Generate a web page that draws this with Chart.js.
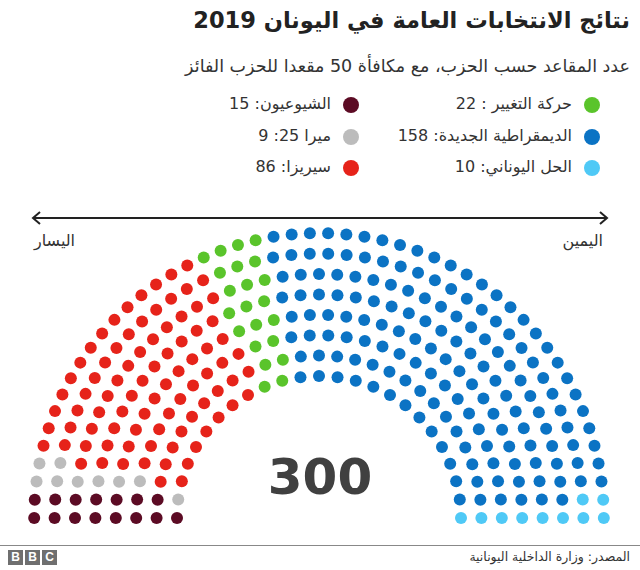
<!DOCTYPE html>
<html lang="ar">
<head>
<meta charset="utf-8">
<script src="https://cdn.jsdelivr.net/npm/chart.js@4.4.1/dist/chart.umd.min.js"></script>
<style>
  html, body { margin: 0; padding: 0; background: #fff; }
  body { width: 640px; height: 570px; position: relative; overflow: hidden; font-family: "DejaVu Sans", "Noto Sans", sans-serif; color: #222; }
  .rtl { direction: rtl; position: absolute; white-space: nowrap; }
  #title { right: 10px; top: 7px; font-size: 22.5px; font-weight: bold; color: #222; }
  #subtitle { right: 10px; top: 56px; font-size: 17.5px; color: #333; }
  .leg { font-size: 16px; color: #333; line-height: 20px; }
  .leg span.dot { display: inline-block; width: 16px; height: 16px; border-radius: 50%; vertical-align: middle; margin-left: 12px; }
  #arrow { position: absolute; left: 30px; top: 211px; width: 580px; height: 14px; }
  .side { font-size: 16px; color: #333; top: 231px; }
  #total { position: absolute; left: 0; width: 640px; top: 448px; text-align: center; font-size: 50px; font-weight: bold; color: #404040; font-family: "DejaVu Sans", sans-serif; }
  #rule { position: absolute; left: 0; top: 545px; width: 640px; height: 1px; background: #888; }
  #bbc { position: absolute; left: 8px; top: 550px; display: flex; gap: 2px; }
  #bbc div { width: 15px; height: 15px; background: #6f6f6f; color: #fff; font: bold 12px "Liberation Sans", sans-serif; text-align: center; line-height: 15px; }
  #source { right: 10px; top: 549px; font-size: 12.5px; color: #333; }
  #chart { position: absolute; left: 0; top: 200px; }
</style>
</head>
<body>
<div id="title" class="rtl">نتائج الانتخابات العامة في اليونان 2019</div>
<div id="subtitle" class="rtl">عدد المقاعد حسب الحزب، مع مكافأة 50 مقعدا للحزب الفائز</div>
<div id="legend"></div>

<svg id="arrow" viewBox="0 0 580 14">
  <line x1="3" y1="7" x2="577" y2="7" stroke="#222" stroke-width="2"/>
  <polyline points="10,1 3,7 10,13" fill="none" stroke="#222" stroke-width="2"/>
  <polyline points="570,1 577,7 570,13" fill="none" stroke="#222" stroke-width="2"/>
</svg>
<div class="rtl side" style="left:34px">اليسار</div>
<div class="rtl side" style="right:37px">اليمين</div>

<canvas id="chart" width="640" height="340"></canvas>
<div id="total">300</div>

<div id="rule"></div>
<div id="bbc"><div>B</div><div>B</div><div>C</div></div>
<div id="source" class="rtl">المصدر: وزارة الداخلية اليونانية</div>

<script>
// Parties from left to right of the chamber
const parties = ['الشيوعيون', 'ميرا 25', 'سيريزا', 'حركة التغيير', 'الديمقراطية الجديدة', 'الحل اليوناني'];
const seats = [15, 9, 86, 22, 158, 10];
const colors = ['#5c0b24', '#bcbcbc', '#e6231a', '#5ac42b', '#0b73c4', '#4fc9f6'];

// Legend text as printed, in reading order (right column, then left column)
const legendLabels = ['حركة التغيير : 22', 'الديمقراطية الجديدة: 158', 'الحل اليوناني: 10',
                      'الشيوعيون: 15', 'ميرا 25: 9', 'سيريزا: 86'];
const legendParty = [3, 4, 5, 0, 1, 2];

const totalSeats = seats.reduce((a, b) => a + b, 0);

// Hemicycle geometry (data units are pixels)
const ROWS = 8;
const innerR = 142;
const rowGap = 20.4;

// Seats per row proportional to radius
const radii = Array.from({ length: ROWS }, (_, i) => innerR + i * rowGap);
const rSum = radii.reduce((a, b) => a + b, 0);
const perRow = radii.map(r => Math.round(totalSeats * r / rSum));

// Every seat position, then sort by angle (left to right)
const slots = [];
radii.forEach((r, i) => {
    const n = perRow[i];
    for (let j = 0; j < n; j++) {
        const a = Math.PI * (1 - j / (n - 1));
        slots.push({ a, r });
    }
});
slots.sort((p, q) => (q.a - p.a) || (q.r - p.r));

// Hand out seats to parties in order
const seatColor = [];
seats.forEach((n, p) => { for (let k = 0; k < n; k++) seatColor.push(colors[p]); });

const points = slots.map(s => ({ x: s.r * Math.cos(s.a), y: s.r * Math.sin(s.a) }));

new Chart(document.getElementById('chart'), {
    type: 'scatter',
    data: {
        datasets: [{
            data: points,
            pointRadius: 6,
            pointHoverRadius: 6,
            pointBorderWidth: 0,
            pointBackgroundColor: seatColor,
            clip: false
        }]
    },
    options: {
        responsive: false,
        animation: false,
        events: [],
        layout: { padding: 0, autoPadding: false },
        plugins: { legend: { display: false }, tooltip: { enabled: false } },
        scales: {
            x: { type: 'linear', min: -319, max: 321, display: false },
            y: { type: 'linear', min: -22, max: 318, display: false }
        }
    }
});

// HTML legend
const legendRows = [104, 136, 167];
const legendRight = [40, 281];
const legend = document.getElementById('legend');
legendLabels.forEach((label, i) => {
    const col = Math.floor(i / 3);
    const el = document.createElement('div');
    el.className = 'rtl leg';
    el.style.right = legendRight[col] + 'px';
    el.style.top = (legendRows[i % 3] - 10) + 'px';
    el.innerHTML = '<span class="dot" style="background:' + colors[legendParty[i]] + '"></span>' + label;
    legend.appendChild(el);
});
</script>
</body>
</html>
